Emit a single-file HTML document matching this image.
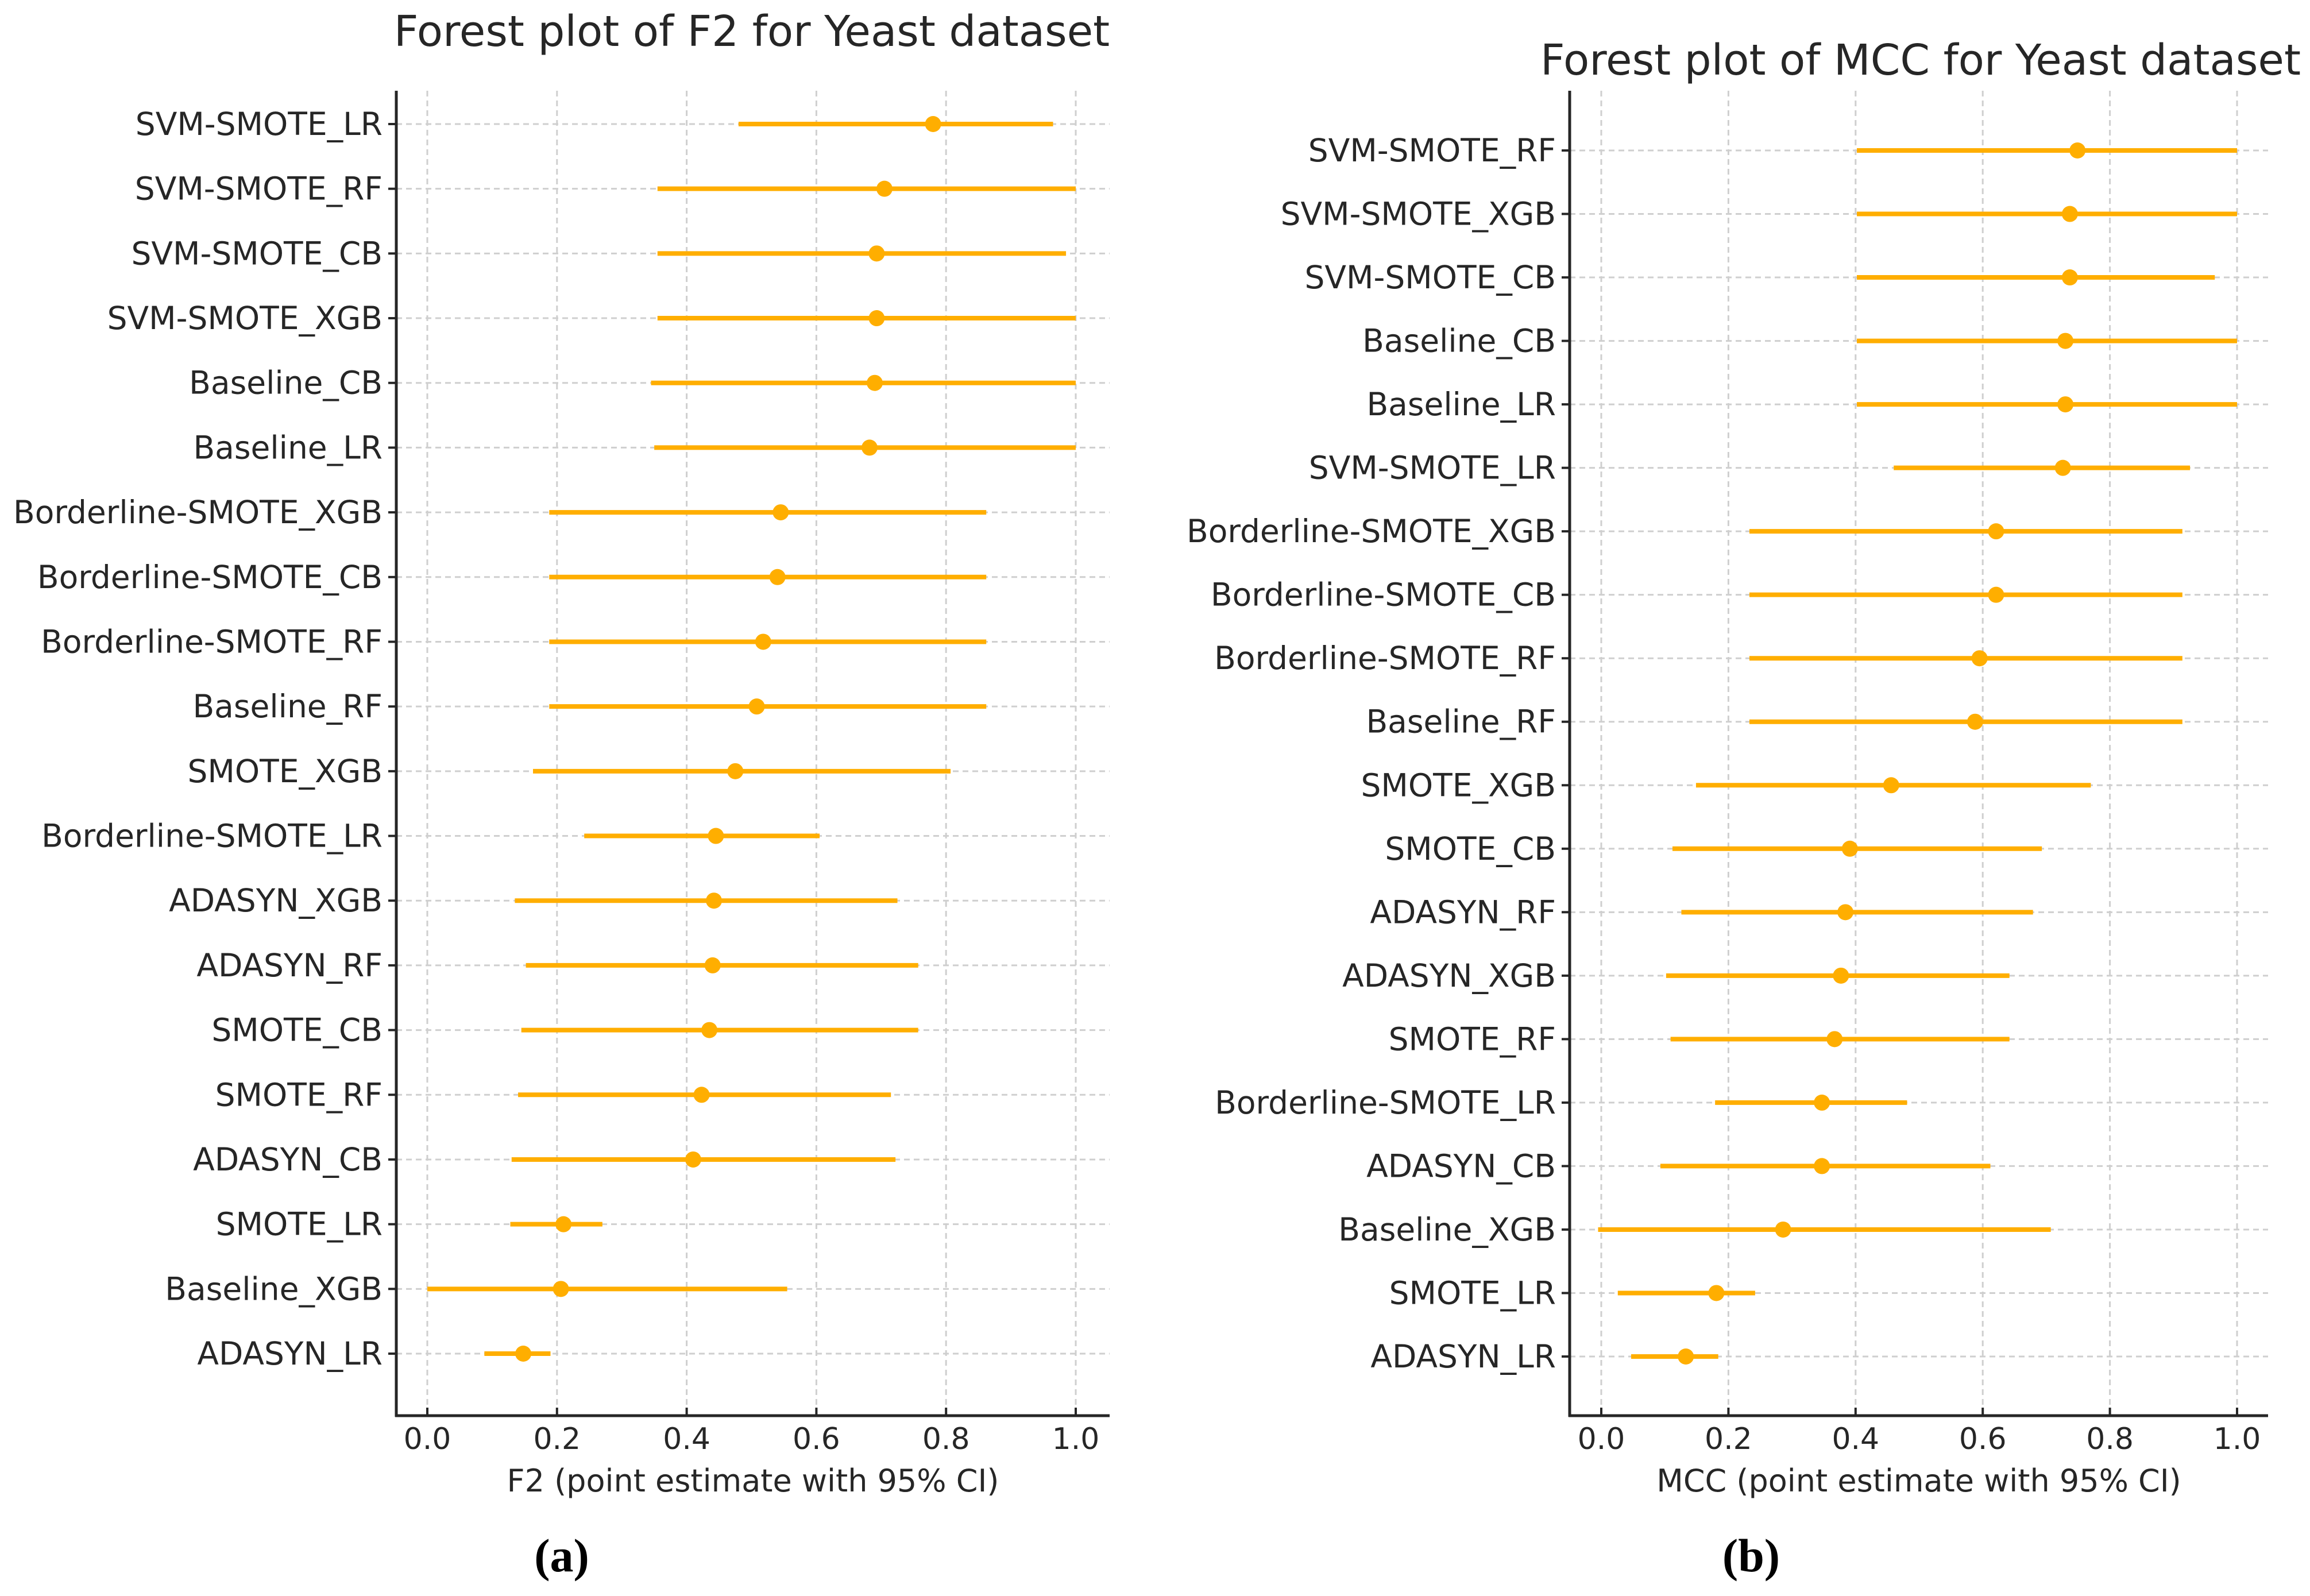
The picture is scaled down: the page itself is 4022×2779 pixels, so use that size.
<!DOCTYPE html>
<html><head><meta charset="utf-8"><style>
html,body{margin:0;padding:0;background:#fff;}
svg{display:block;}
text{font-family:"DejaVu Sans","Liberation Sans",sans-serif;fill:#262626;}
</style></head><body>
<svg id="fig" width="4022" height="2779" viewBox="0 0 4022 2779" xmlns="http://www.w3.org/2000/svg"></svg>
<script>
const f2Labels=["SVM-SMOTE_LR","SVM-SMOTE_RF","SVM-SMOTE_CB","SVM-SMOTE_XGB","Baseline_CB","Baseline_LR","Borderline-SMOTE_XGB","Borderline-SMOTE_CB","Borderline-SMOTE_RF","Baseline_RF","SMOTE_XGB","Borderline-SMOTE_LR","ADASYN_XGB","ADASYN_RF","SMOTE_CB","SMOTE_RF","ADASYN_CB","SMOTE_LR","Baseline_XGB","ADASYN_LR"];
const f2Point=[0.78,0.705,0.693,0.693,0.69,0.682,0.545,0.54,0.518,0.508,0.475,0.445,0.442,0.44,0.435,0.423,0.41,0.21,0.206,0.148];
const f2Low=[0.48,0.355,0.355,0.355,0.345,0.35,0.188,0.188,0.188,0.188,0.163,0.242,0.135,0.152,0.145,0.14,0.13,0.128,0.0,0.088];
const f2High=[0.965,1.0,0.985,1.0,1.0,1.0,0.862,0.862,0.862,0.862,0.807,0.605,0.725,0.757,0.757,0.715,0.722,0.27,0.555,0.19];

const mccLabels=["SVM-SMOTE_RF","SVM-SMOTE_XGB","SVM-SMOTE_CB","Baseline_CB","Baseline_LR","SVM-SMOTE_LR","Borderline-SMOTE_XGB","Borderline-SMOTE_CB","Borderline-SMOTE_RF","Baseline_RF","SMOTE_XGB","SMOTE_CB","ADASYN_RF","ADASYN_XGB","SMOTE_RF","Borderline-SMOTE_LR","ADASYN_CB","Baseline_XGB","SMOTE_LR","ADASYN_LR"];
const mccPoint=[0.749,0.737,0.737,0.730,0.730,0.726,0.621,0.621,0.595,0.588,0.456,0.391,0.384,0.377,0.367,0.347,0.347,0.286,0.181,0.133];
const mccLow=[0.402,0.402,0.402,0.402,0.402,0.46,0.233,0.233,0.233,0.233,0.149,0.112,0.126,0.102,0.109,0.179,0.093,-0.005,0.026,0.047];
const mccHigh=[1.0,1.0,0.965,1.0,1.0,0.926,0.914,0.914,0.914,0.914,0.77,0.693,0.679,0.642,0.642,0.481,0.612,0.707,0.242,0.184];

const xTicks=[0,0.2,0.4,0.6,0.8,1.0];
const xTickLabels=["0.0","0.2","0.4","0.6","0.8","1.0"];

const NS="http://www.w3.org/2000/svg";
const svg=document.getElementById('fig');
function el(tag,attrs,parent){const e=document.createElementNS(NS,tag);for(const k in attrs)e.setAttribute(k,attrs[k]);(parent||svg).appendChild(e);return e;}

function panel(cfg){
  const g=el('g',{});
  
  
  const xs=v=>cfg.x0+(v)*(cfg.x1-cfg.x0);
  const n=cfg.labels.length;
  const ys=i=>cfg.yFirst+i*(cfg.yLast-cfg.yFirst)/(n-1);
  xTicks.forEach((t,i)=>{
    const gl=el('line',{x1:xs(t),x2:xs(t),y1:cfg.top,y2:cfg.bottom,stroke:'#cfcfcf','stroke-width':3,'stroke-dasharray':'10,7'},g);
    
    
    const tk=el('line',{x1:xs(t),x2:xs(t),y1:cfg.bottom,y2:cfg.bottom-14,stroke:'#262626','stroke-width':4},g);
    
    
    const tl=el('text',{x:xs(t),y:cfg.bottom+58,'font-size':52,'text-anchor':'middle'},g);
    tl.textContent=xTickLabels[i];
    
    
  });
  cfg.labels.forEach((lab,i)=>{
    const y=ys(i);
    const hl=el('line',{x1:cfg.left,x2:cfg.right,y1:y,y2:y,stroke:'#cfcfcf','stroke-width':3,'stroke-dasharray':'10,7'},g);
    
    
    const tk=el('line',{x1:cfg.left-14,x2:cfg.left,y1:y,y2:y,stroke:'#262626','stroke-width':4},g);
    
    
    const tl=el('text',{x:cfg.left-24,y:y+19,'font-size':55,'text-anchor':'end'},g);
    tl.textContent=lab;
    
    
    const ci=el('line',{x1:xs(cfg.low[i]),x2:xs(cfg.high[i]),y1:y,y2:y,stroke:'#ffae00','stroke-width':8},g);
    
    
    const pt=el('circle',{cx:xs(cfg.point[i]),cy:y,r:14,fill:'#ffae00'},g);
    
    
  });
  const sl=el('line',{x1:cfg.left,x2:cfg.left,y1:cfg.top,y2:cfg.bottom+2,stroke:'#262626','stroke-width':5},g);
  
  
  const sb=el('line',{x1:cfg.left-2,x2:cfg.right,y1:cfg.bottom,y2:cfg.bottom,stroke:'#262626','stroke-width':5},g);
  
  
  const t=el('text',{x:cfg.titleX,y:cfg.titleY,'font-size':74,'text-anchor':'middle',fill:'#333'},g);
  t.textContent=cfg.title;
  
  
  const xl=el('text',{x:(cfg.left+cfg.right)/2,y:cfg.bottom+132,'font-size':54,'text-anchor':'middle'},g);
  xl.textContent=cfg.xlabel;
  
  
  const cap=el('text',{x:cfg.capX,y:2736,'font-size':82,'text-anchor':'middle','font-weight':'bold'},g);
  cap.setAttribute('style','font-family:"Liberation Serif","DejaVu Serif",serif;fill:#000');
  cap.textContent=cfg.caption;
  
  
}

panel({name:'f2-forest-plot',labels:f2Labels,point:f2Point,low:f2Low,high:f2High,
  x0:744,x1:1873,left:690,right:1932,top:158,bottom:2465,yFirst:216,yLast:2357,
  title:'Forest plot of F2 for Yeast dataset',titleX:1309,titleY:80,
  xlabel:'F2 (point estimate with 95% CI)',caption:'(a)',capX:978});
panel({name:'mcc-forest-plot',labels:mccLabels,point:mccPoint,low:mccLow,high:mccHigh,
  x0:2788,x1:3895,left:2733,right:3949,top:158,bottom:2465,yFirst:262,yLast:2362,
  title:'Forest plot of MCC for Yeast dataset',titleX:3344,titleY:130,
  xlabel:'MCC (point estimate with 95% CI)',caption:'(b)',capX:3049});
</script>
</body></html>
